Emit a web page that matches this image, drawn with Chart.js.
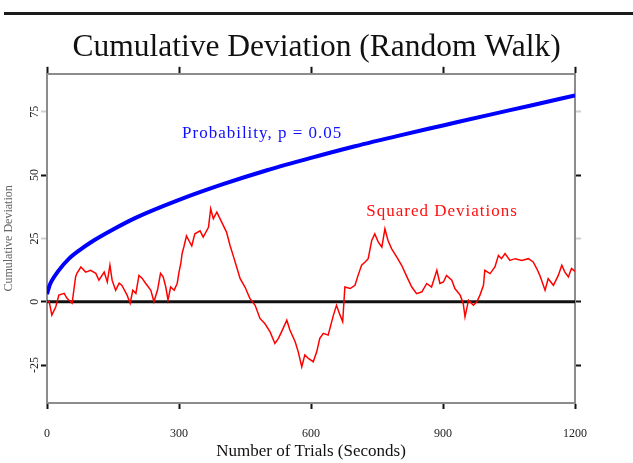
<!DOCTYPE html>
<html>
<head>
<meta charset="utf-8">
<script src="https://cdn.jsdelivr.net/npm/chart.js@4/dist/chart.umd.min.js"></script>
<style>
  html, body { margin: 0; padding: 0; background: #fff; }
  #wrap { width: 633px; height: 463px; }
</style>
</head>
<body>
<div id="wrap"><canvas id="c" width="633" height="463"></canvas></div>
<script>
// Axis ticks
const xTicks = [0, 300, 600, 900, 1200];
const yTicks = [-25, 0, 25, 50, 75];

// p = 0.05 envelope
const probTrials = [0, 5, 10, 25, 50, 75, 100, 150, 200, 300, 400, 500, 600, 700, 800, 900, 1000, 1100, 1200];
const probValues = [3, 6, 8, 12, 17, 20.5, 23.5, 28.5, 33, 40.2, 46.4, 51.9, 56.8, 61.4, 65.6, 69.6, 73.6, 77.5, 81.5];

// Cumulative deviation of the random walk
const walkTrials = [0, 5, 11, 20, 27, 39, 45, 57, 65, 68, 77, 88, 99, 111, 118, 130, 137, 143, 148, 156,
  164, 170, 182, 189, 195, 202, 209, 216, 224, 236, 243, 251, 258, 264, 270, 275, 281, 289, 296, 300,
  304, 307, 311, 317, 329, 336, 348, 355, 367, 372, 378, 386, 397, 408, 416, 423, 431, 439, 450, 461,
  473, 484, 495, 507, 518, 526, 533, 545, 552, 564, 571, 579, 586, 594, 605, 613, 620, 628, 639, 651,
  658, 666, 672, 677, 689, 700, 707, 715, 723, 730, 738, 745, 753, 761, 768, 775, 783, 795, 806, 818,
  829, 840, 852, 863, 874, 886, 893, 901, 908, 920, 927, 939, 946, 950, 958, 969, 977, 984, 992, 995,
  1007, 1018, 1026, 1033, 1041, 1052, 1064, 1079, 1094, 1105, 1113, 1120, 1132, 1139, 1151, 1162, 1170, 1177, 1185, 1192, 1200];
const walkValues = [0, 0, -5.3, -2, 2.6, 3.3, 1.4, -0.6, 9.8, 11.2, 13.7, 11.7, 12.4, 11.2, 8.5, 11.7, 7.8, 14.4, 8.5, 4.5,
  7.3, 6.5, 2.6, -0.6, 4.5, 3.3, 10.4, 9.3, 7.3, 4.5, 0, 4.5, 11.2, 9.8, 5.8, 0.6, 5.8, 4.5, 7.3, 11.7,
  15, 19, 21.6, 26, 22, 26.8, 28, 25.5, 29.4, 36.7, 32.8, 35.4, 31.4, 27.5, 22.2, 18.3, 13.7, 9.1, 5.8, 1.3,
  -1.4, -6.6, -8.6, -11.9, -16.5, -14.5, -11.9, -7.3, -11.2, -15.8, -19.8, -25.7, -21, -22.4, -23.7, -19.8, -14.5, -12.5, -13.2, -5.3,
  -1.4, -5.3, -7.9, 5.8, 5.2, 6.5, 10.4, 14.4, 15.7, 17, 24.2, 26.8, 23.5, 21.6, 28.8, 24.2, 21, 17.6, 14.4, 9.8,
  5.8, 3.2, 3.9, 7.2, 5.8, 12.4, 7.2, 7.8, 10.4, 8.5, 5.2, 2.6, -0.7, -6, 0.6, -1.4, 0, 2.6, 6.5, 12.4,
  11.1, 13.7, 18.3, 17, 19, 16.3, 17, 16.3, 17, 15.7, 13.1, 10.4, 4.5, 9.1, 6.5, 10.4, 14.4, 11.7, 9.8, 13.1, 12];

// Baseline at zero deviation
const zeroTrials = [0, 1200];
const zeroValues = [0, 0];

const SERIF = '"Liberation Serif", "Times New Roman", serif';

const toPoints = (xs, ys) => xs.map((x, i) => ({ x: x, y: ys[i] }));

// In-plot series captions, anchored in data units
const captions = [
  { text: 'Probability, p = 0.05', x: 489, y: 66.5, color: '#1010ff' },
  { text: 'Squared Deviations', x: 898, y: 35.8, color: '#ff1010' }
];

const captionPlugin = {
  id: 'captions',
  afterDatasetsDraw(chart) {
    const { ctx, scales } = chart;
    ctx.save();
    ctx.font = '17px ' + SERIF;
    if ('letterSpacing' in ctx) ctx.letterSpacing = '1px';
    ctx.textAlign = 'center';
    ctx.textBaseline = 'middle';
    captions.forEach(c => {
      ctx.fillStyle = c.color;
      ctx.fillText(c.text, scales.x.getPixelForValue(c.x), scales.y.getPixelForValue(c.y));
    });
    ctx.restore();
  }
};

// Heavy rule across the top of the page
const rulePlugin = {
  id: 'topRule',
  beforeDraw(chart) {
    const { ctx, width } = chart;
    ctx.save();
    ctx.fillStyle = '#1a1a1a';
    ctx.fillRect(4, 12, width - 4, 3);
    ctx.restore();
  }
};

const frameGrid = {
  drawOnChartArea: false,
  drawTicks: true,
  tickLength: 6,
  tickWidth: 2,
  tickColor: '#111'
};
const frameBorder = { color: '#8c8c8c', width: 2 };
const sideTickColor = c => (c.tick && (c.tick.value === 50 || c.tick.value === -25 || c.tick.value === 0)) ? '#111' : '#cfcfcf';

new Chart(document.getElementById('c'), {
  type: 'line',
  data: {
    datasets: [
      {
        label: 'Zero',
        data: toPoints(zeroTrials, zeroValues),
        borderColor: '#111',
        borderWidth: 3,
        pointRadius: 0,
        order: 3
      },
      {
        label: 'Probability, p = 0.05',
        data: toPoints(probTrials, probValues),
        borderColor: '#0000ff',
        borderWidth: 4,
        pointRadius: 0,
        cubicInterpolationMode: 'monotone',
        order: 2
      },
      {
        label: 'Squared Deviations',
        data: toPoints(walkTrials, walkValues),
        borderColor: '#ff0000',
        borderWidth: 1.5,
        pointRadius: 0,
        tension: 0,
        order: 1
      }
    ]
  },
  options: {
    responsive: false,
    animation: false,
    layout: { padding: 0 },
    plugins: {
      legend: { display: false },
      tooltip: { enabled: false },
      title: {
        display: true,
        text: 'Cumulative Deviation (Random Walk)',
        color: '#111',
        font: { family: SERIF, size: 31.5, weight: 'normal' },
        padding: { top: 29, bottom: 0 }
      }
    },
    scales: {
      x: {
        type: 'linear',
        position: 'bottom',
        min: 0,
        max: 1200,
        afterBuildTicks: s => { s.ticks = xTicks.map(v => ({ value: v })); },
        grid: frameGrid,
        border: frameBorder,
        ticks: {
          color: '#222',
          font: { family: SERIF, size: 12 },
          padding: 18,
          maxRotation: 0,
          minRotation: 0,
          callback: v => String(v)
        },
        title: {
          display: true,
          text: 'Number of Trials (Seconds)',
          color: '#111',
          font: { family: SERIF, size: 17 },
          padding: { top: 0, bottom: 1 }
        },
        afterFit: s => { s.height = 60; }
      },
      x2: {
        type: 'linear',
        position: 'top',
        min: 0,
        max: 1200,
        afterBuildTicks: s => { s.ticks = xTicks.map(v => ({ value: v })); },
        grid: Object.assign({}, frameGrid, { tickLength: 7 }),
        border: frameBorder,
        ticks: { display: false },
        afterFit: s => { s.height = 7; }
      },
      y: {
        type: 'linear',
        position: 'left',
        min: -40,
        max: 90,
        afterBuildTicks: s => { s.ticks = yTicks.map(v => ({ value: v })); },
        grid: Object.assign({}, frameGrid, { tickColor: sideTickColor }),
        border: frameBorder,
        ticks: {
          color: '#222',
          font: { family: SERIF, size: 12 },
          minRotation: 90,
          maxRotation: 90,
          crossAlign: 'center',
          padding: -2,
          callback: v => String(v)
        },
        title: {
          display: true,
          text: 'Cumulative Deviation',
          color: '#666',
          font: { family: SERIF, size: 12 },
          padding: { top: 2, bottom: 0 }
        },
        afterFit: s => { s.width = 47; }
      },
      y2: {
        type: 'linear',
        position: 'right',
        min: -40,
        max: 90,
        afterBuildTicks: s => { s.ticks = yTicks.map(v => ({ value: v })); },
        grid: Object.assign({}, frameGrid, { tickColor: sideTickColor }),
        border: frameBorder,
        ticks: { display: false },
        afterFit: s => { s.width = 58; }
      }
    }
  },
  plugins: [captionPlugin, rulePlugin]
});
</script>
</body>
</html>
